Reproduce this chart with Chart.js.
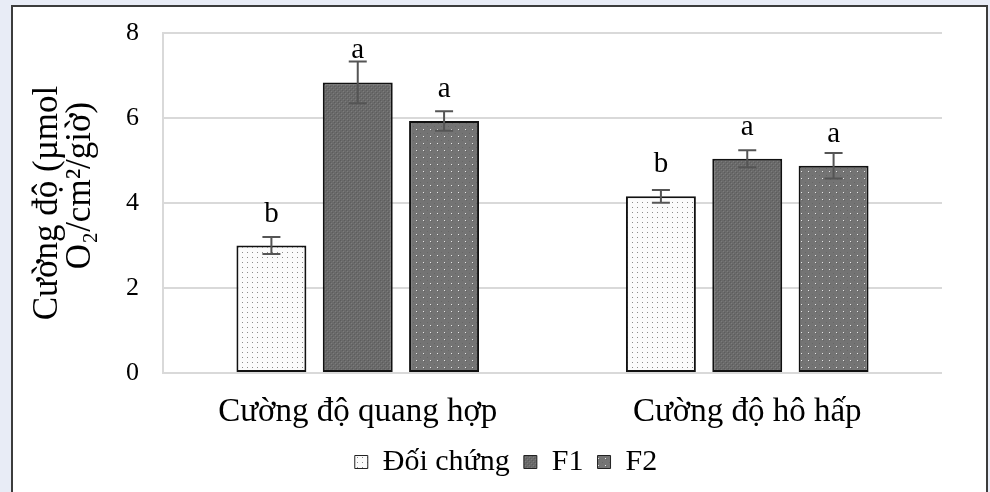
<!DOCTYPE html>
<html>
<head>
<meta charset="utf-8">
<script src="https://cdn.jsdelivr.net/npm/chart.js@4.4.1/dist/chart.umd.min.js"></script>
<style>
  html, body { margin: 0; padding: 0; width: 990px; height: 492px; overflow: hidden; background: #e8ecf6; }
  #frame { position: absolute; left: 11px; top: 5px; width: 973px; height: 520px; background: #ffffff; border: 2px solid #3c3c3c; }
  #wrap { position: absolute; left: 0; top: 0; width: 990px; height: 492px; }
</style>
</head>
<body>
<div id="frame"></div>
<div id="wrap"><canvas id="c" width="990" height="492"></canvas></div>
<script>
// ---- data ----
const categories = ['Cường độ quang hợp', 'Cường độ hô hấp'];
const seriesNames = ['Đối chứng', 'F1', 'F2'];
const controlValues = [3.0, 4.16];
const f1Values = [6.84, 5.04];
const f2Values = [5.93, 4.88];
const controlErrors = [0.2, 0.15];
const f1Errors = [0.49, 0.2];
const f2Errors = [0.23, 0.3];
const controlLetters = ['b', 'b'];
const f1Letters = ['a', 'a'];
const f2Letters = ['a', 'a'];
const yTicks = [0, 2, 4, 6, 8];
const yTitle = ['Cường độ (µmol', '\u2003O₂/cm²/giờ)'];

// ---- patterns ----
const ctxMain = document.getElementById('c').getContext('2d');
function pattern(size, bg, dots) {
  const c = document.createElement('canvas');
  c.width = c.height = size;
  const x = c.getContext('2d');
  x.fillStyle = bg; x.fillRect(0, 0, size, size);
  dots.forEach(d => { x.fillStyle = d[2]; x.fillRect(d[0], d[1], d[3] || 1, d[3] || 1); });
  return ctxMain.createPattern(c, 'repeat');
}
const patControl = pattern(5, '#fbfbfb', [[2, 2, '#8c8c8c']]);
const patF1 = pattern(4, '#6a6a6a', [[0, 0, '#5c5c5c'], [2, 2, '#5c5c5c'], [1, 1, '#7c7c7c'], [3, 3, '#7c7c7c']]);
const patF2 = pattern(7, '#747474', [[0, 0, '#666666'], [4, 4, '#666666'], [3, 3, '#e6e6e6']]);

const errs = [controlErrors, f1Errors, f2Errors];
const letters = [controlLetters, f1Letters, f2Letters];

const errorPlugin = {
  id: 'errLetters',
  afterDatasetsDraw(chart) {
    const ctx = chart.ctx;
    const ys = chart.scales.y;
    ctx.save();
    chart.data.datasets.forEach((ds, di) => {
      const meta = chart.getDatasetMeta(di);
      meta.data.forEach((bar, i) => {
        const v = ds.data[i];
        const e = errs[di][i];
        const yTop = ys.getPixelForValue(v + e);
        const yBot = ys.getPixelForValue(v - e);
        ctx.strokeStyle = '#555555';
        ctx.lineWidth = 2;
        ctx.beginPath();
        ctx.moveTo(bar.x, yTop); ctx.lineTo(bar.x, yBot);
        ctx.moveTo(bar.x - 9, yTop); ctx.lineTo(bar.x + 9, yTop);
        ctx.moveTo(bar.x - 9, yBot); ctx.lineTo(bar.x + 9, yBot);
        ctx.stroke();
        ctx.fillStyle = '#000';
        ctx.font = '29px "Liberation Serif"';
        ctx.textAlign = 'center';
        ctx.textBaseline = 'alphabetic';
        ctx.fillText(letters[di][i], bar.x, ys.getPixelForValue(v) - 24);
      });
    });
    ctx.restore();
  }
};

Chart.defaults.font.family = '"Liberation Serif", serif';
Chart.defaults.color = '#000';

new Chart(ctxMain, {
  type: 'bar',
  data: {
    labels: categories,
    datasets: [
      { label: seriesNames[0], data: controlValues, backgroundColor: patControl, borderColor: '#111', borderWidth: 2, borderSkipped: false },
      { label: seriesNames[1], data: f1Values, backgroundColor: patF1, borderColor: '#111', borderWidth: 2, borderSkipped: false },
      { label: seriesNames[2], data: f2Values, backgroundColor: patF2, borderColor: '#111', borderWidth: 2, borderSkipped: false }
    ]
  },
  options: {
    responsive: false,
    animation: false,
    layout: { padding: { left: 22, right: 0, top: 5, bottom: 5 } },
    datasets: { bar: { categoryPercentage: 0.665, barPercentage: 0.81 } },
    plugins: {
      tooltip: { enabled: false },
      legend: {
        position: 'bottom',
        labels: {
          font: { size: 30 },
          boxWidth: 13, boxHeight: 13,
          padding: 14,
          generateLabels(chart) {
            const items = Chart.defaults.plugins.legend.labels.generateLabels(chart);
            items.forEach(it => { it.lineWidth = 1; it.strokeStyle = '#222'; });
            return items;
          }
        }
      }
    },
    scales: {
      x: {
        grid: { display: false },
        border: { display: false },
        ticks: { font: { size: 33, lineHeight: 1 }, padding: 15 },
        afterFit(s) { s.height = 60; }
      },
      y: {
        min: 0, max: 8,
        afterBuildTicks(s) { s.ticks = yTicks.map(v => ({ value: v })); },
        grid: { color: '#d9d9d9', lineWidth: 2, drawTicks: false },
        border: { display: true, color: '#d9d9d9', width: 2 },
        ticks: { font: { size: 26, lineHeight: 0.7 }, padding: 24 },
        title: { display: true, text: yTitle, font: { size: 35, lineHeight: 0.94 }, padding: { top: 9, bottom: 0 } },
        afterFit(s) { s.width = 141; }
      },
      yRight: {
        position: 'right',
        display: true,
        grid: { display: false },
        border: { display: false },
        ticks: { display: false },
        afterFit(s) { s.width = 48; }
      }
    }
  },
  plugins: [errorPlugin]
});
</script>
</body>
</html>
